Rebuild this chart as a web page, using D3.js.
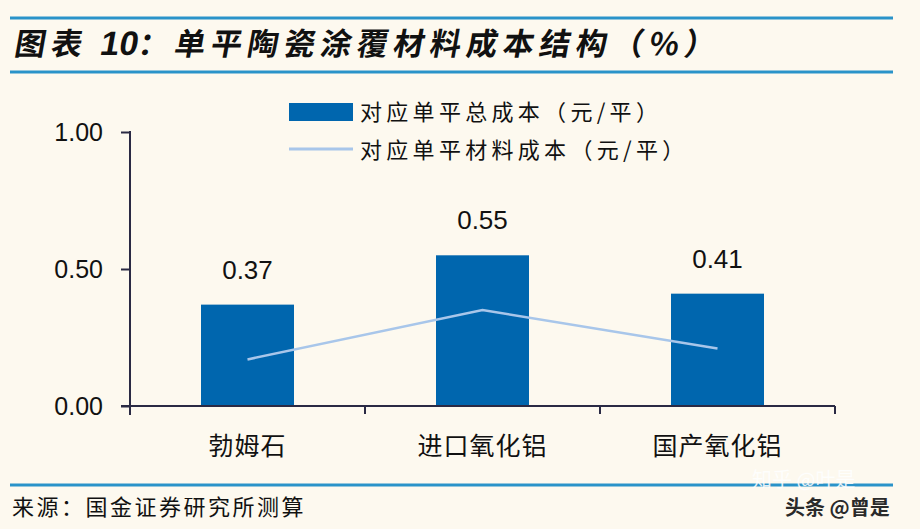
<!DOCTYPE html>
<html><head><meta charset="utf-8">
<script src="https://cdn.jsdelivr.net/npm/d3@7"></script>
<style>
html,body{margin:0;padding:0;background:#FDF9EF;}
svg{display:block;}
</style></head>
<body>
<script>
const categories = ["勃姆石", "进口氧化铝", "国产氧化铝"];
const totalCost = [0.37, 0.55, 0.41];
const materialCost = [0.17, 0.35, 0.21];
const yTicks = [0, 0.5, 1.0];
const seriesNames = ["对应单平总成本（元/平）", "对应单平材料成本（元/平）"];
const titleParts = ["图表 ", "10", "：单平陶瓷涂覆材料成本结构（%）"];
const sourceText = "来源：国金证券研究所测算";

const W = 920, H = 529;
const svg = d3.select("body").append("svg").attr("width", W).attr("height", H);
svg.append("rect").attr("width", W).attr("height", H).attr("fill", "#FDF9EF");

const cjk = "'Noto Sans CJK SC', 'Noto Sans', sans-serif";
const latin = "'Liberation Sans', Arial, sans-serif";
const blue = "#0066AE", light = "#A8C6EA", axisC = "#2A2A44", rule = "#2A93C9";

// header / footer rules
[18, 72, 485].forEach(yy => {
  svg.append("line").attr("x1", 10).attr("x2", 893).attr("y1", yy).attr("y2", yy)
    .attr("stroke", rule).attr("stroke-width", 3);
});

const title = svg.append("text").attr("x", 14).attr("y", 55)
  .attr("transform", "skewX(-10) translate(9,0)")
  .attr("font-family", cjk).attr("font-weight", "bold").attr("font-size", 31)
  .attr("fill", "#111");
titleParts.forEach((t, i) => {
  title.append("tspan").attr("letter-spacing", i === 1 ? 0 : 5.5)
    .attr("font-family", i === 1 ? latin : cjk).attr("font-size", i === 1 ? 34 : 31).text(t);
});

svg.append("text").attr("x", 12).attr("y", 515)
  .attr("font-family", cjk).attr("font-size", 22).attr("letter-spacing", 2.5)
  .attr("fill", "#111").text(sourceText);

// watermarks
svg.append("text").attr("x", 752).attr("y", 487).attr("font-family", cjk).attr("font-size", 20)
  .attr("fill", "#ffffff").attr("opacity", 0.85).text("知乎 @叶是");
svg.append("text").attr("x", 785).attr("y", 515).attr("font-family", cjk).attr("font-size", 20)
  .attr("font-weight", "bold").attr("fill", "#2a2a2a").text("头条 @曾是");

// scales
const xStep = d3.scaleBand().domain(categories).range([130, 835]);
const y = d3.scaleLinear().domain([0, 1]).range([406, 132]);
const cx = d => xStep(d) + xStep.bandwidth() / 2;

// bars
svg.selectAll("rect.bar").data(categories).enter().append("rect")
  .attr("class", "bar")
  .attr("x", d => cx(d) - 46.5)
  .attr("width", 93)
  .attr("y", (d, i) => y(totalCost[i]))
  .attr("height", (d, i) => y(0) - y(totalCost[i]))
  .attr("fill", blue);

// value labels
svg.selectAll("text.val").data(categories).enter().append("text")
  .attr("x", d => cx(d))
  .attr("y", (d, i) => y(totalCost[i]) - 26)
  .attr("text-anchor", "middle")
  .attr("font-family", latin).attr("font-size", 26)
  .attr("fill", "#111").text((d, i) => totalCost[i].toFixed(2));

// line
const line = d3.line().x((d, i) => cx(categories[i])).y(d => y(d));
svg.append("path").datum(materialCost).attr("d", line).attr("fill", "none")
  .attr("stroke", light).attr("stroke-width", 2.5);

// y axis
const yAxis = d3.axisLeft(y).tickValues(yTicks).tickFormat(d3.format(".2f")).tickSize(9).tickPadding(18);
const gy = svg.append("g").attr("transform", "translate(130,0)").call(yAxis);
gy.select(".domain").remove();
gy.selectAll(".tick line").attr("stroke", axisC).attr("stroke-width", 2);
gy.selectAll(".tick text").attr("font-family", latin).attr("font-size", 25).attr("fill", "#111");
svg.append("line").attr("x1", 130).attr("x2", 130).attr("y1", 131).attr("y2", 415).attr("stroke", axisC).attr("stroke-width", 2);

// x axis
svg.append("line").attr("x1", 121).attr("x2", 835).attr("y1", 406).attr("y2", 406).attr("stroke", axisC).attr("stroke-width", 2);
const gx = svg.append("g").attr("transform", "translate(0,406)")
  .call(d3.axisBottom(xStep).tickSize(0).tickPadding(0));
gx.select(".domain").remove();
gx.selectAll(".tick text").attr("font-family", cjk).attr("font-size", 25).attr("letter-spacing", 1)
  .attr("fill", "#111").attr("dy", "1.95em");
svg.selectAll("line.sep").data(categories.slice(1).concat([null])).enter().append("line")
  .attr("x1", d => d ? xStep(d) : 835).attr("x2", d => d ? xStep(d) : 835)
  .attr("y1", 406).attr("y2", 414)
  .attr("stroke", axisC).attr("stroke-width", 2);

// legend
const lg = svg.append("g");
lg.append("rect").attr("x", 289).attr("y", 103).attr("width", 64).attr("height", 18).attr("fill", blue);
lg.append("line").attr("x1", 289).attr("x2", 353).attr("y1", 149).attr("y2", 149).attr("stroke", light).attr("stroke-width", 3);
lg.selectAll("text").data(seriesNames).enter().append("text")
  .attr("x", 360).attr("y", (d, i) => 120 + i * 38)
  .attr("font-family", cjk).attr("font-size", 22).attr("letter-spacing", 4.3)
  .attr("fill", "#111").text(d => d);
</script>
</body></html>
